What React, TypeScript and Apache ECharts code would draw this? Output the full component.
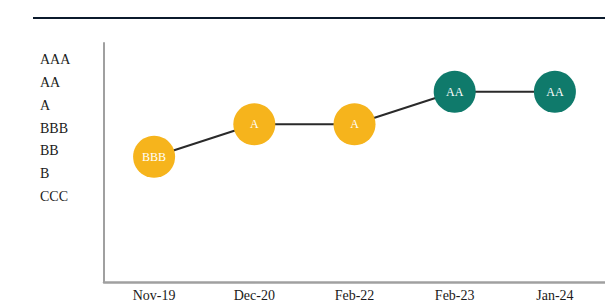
import React, { useEffect, useRef } from "react";
import * as echarts from "echarts";

const dates = ["Nov-19", "Dec-20", "Feb-22", "Feb-23", "Jan-24"];
const ratings = ["BBB", "A", "A", "AA", "AA"];
const ratingScale = ["CCC", "B", "BB", "BBB", "A", "AA", "AAA"];
const highGrade = ["AA", "AAA"];

export default function App() {
  const ref = useRef<HTMLDivElement>(null);
  useEffect(() => {
    if (!ref.current) return;
    const chart = echarts.init(ref.current, null, { renderer: "svg" });
    const serif = "'Liberation Serif', 'Times New Roman', serif";
    const data = ratings.map((r) => ({
      value: ratingScale.indexOf(r) + 1,
      name: r,
      itemStyle: { color: highGrade.includes(r) ? "#0f7a6b" : "#f6b41c" },
    }));
    chart.setOption({
      animation: false,
      backgroundColor: "#ffffff",
      graphic: [
        {
          type: "rect",
          shape: { x: 33, y: 17, width: 572, height: 2 },
          style: { fill: "#0b1a2c" },
          silent: true,
        },
      ],
      grid: [
        { left: 104, top: 43, right: -21, bottom: 21, containLabel: false },
        { left: 104, top: 48.6, height: 159, right: 0, containLabel: false },
      ],
      xAxis: [
        {
          type: "category",
          gridIndex: 0,
          data: dates,
          boundaryGap: true,
          axisLine: { show: true, lineStyle: { color: "#a0a0a0", width: 2.5 } },
          axisTick: { show: false },
          splitLine: { show: false },
          axisLabel: { fontFamily: serif, fontSize: 14, color: "#1a1a1a", margin: 6 },
        },
        { type: "value", gridIndex: 1, show: false },
      ],
      yAxis: [
        {
          type: "value",
          gridIndex: 0,
          min: 0.15,
          max: 7.5,
          axisLine: { show: true, lineStyle: { color: "#a0a0a0", width: 2 } },
          axisTick: { show: false },
          axisLabel: { show: false },
          splitLine: { show: false },
        },
        {
          type: "category",
          gridIndex: 1,
          data: ratingScale,
          axisLine: { show: false },
          axisTick: { show: false },
          splitLine: { show: false },
          axisLabel: {
            align: "left",
            margin: 64,
            fontFamily: serif,
            fontSize: 14,
            color: "#1a1a1a",
          },
        },
      ],
      series: [
        {
          type: "line",
          xAxisIndex: 0,
          yAxisIndex: 0,
          data,
          symbol: "circle",
          symbolSize: 42,
          lineStyle: { color: "#2a2a2a", width: 2 },
          label: {
            show: true,
            position: "inside",
            formatter: (p: any) => p.name,
            color: "#ffffff",
            fontFamily: serif,
            fontSize: 12,
          },
        },
      ],
    });
    return () => chart.dispose();
  }, []);
  return (
    <div
      ref={ref}
      style={{ position: "fixed", left: 0, top: 0, width: 605, height: 303, background: "#fff" }}
    />
  );
}
